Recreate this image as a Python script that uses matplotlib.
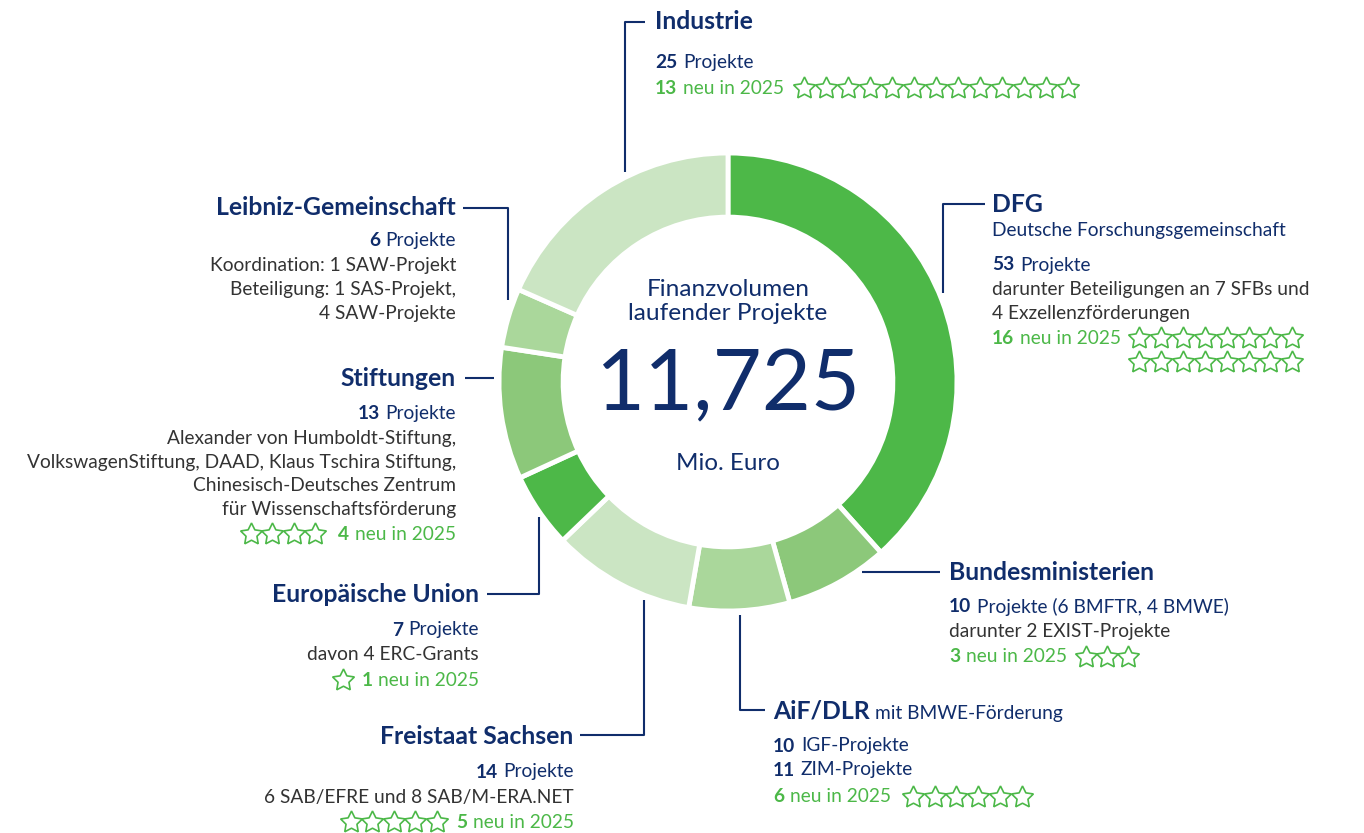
import matplotlib
matplotlib.use('Agg')
import matplotlib.pyplot as plt

plt.rcParams['font.family'] = ['Lato', 'DejaVu Sans']

NAVY = '#102d6b'
GREY = '#333333'
GREEN = '#4cb848'

# ── data ──────────────────────────────────────────────────────────────────────
sources = ['DFG', 'Bundesministerien', 'AiF/DLR', 'Freistaat Sachsen',
           'Europäische Union', 'Stiftungen', 'Leibniz-Gemeinschaft', 'Industrie']
shares = [38.4, 7.3, 7.1, 10.1, 5.3, 9.3, 4.2, 18.4]       # % of volume
ring_colors = ['#4db848', '#8cc87a', '#aad79b', '#cbe5c3',
               '#4db848', '#8cc87a', '#aad79b', '#cbe5c3']
projects = [53, 10, 21, 14, 7, 13, 6, 25]
new_2025 = [16, 3, 6, 5, 1, 4, 0, 13]
total_volume = '11,725'

W, H = 1364, 833
fig = plt.figure(figsize=(W / 100, H / 100), dpi=100)
fig.patch.set_facecolor('white')

# ── donut ─────────────────────────────────────────────────────────────────────
cx, cy, R = 728, 382, 229
pax = fig.add_axes([(cx - R) / W, (H - cy - R) / H, 2 * R / W, 2 * R / H])
pax.pie(shares, colors=ring_colors, startangle=90, counterclock=False, radius=1,
        wedgeprops=dict(width=0.28, edgecolor='white', linewidth=3.5))
pax.set_xlim(-1, 1)
pax.set_ylim(-1, 1)

# ── overlay in pixel coords ───────────────────────────────────────────────────
ax = fig.add_axes([0, 0, 1, 1])
ax.set_xlim(0, W)
ax.set_ylim(H, 0)
ax.axis('off')

TS = 17.8    # titles
BS = 13.8    # body
GAP = 4.0    # space after bold numbers (pt)


def line(pts):
    xs, ys = zip(*pts)
    ax.plot(xs, ys, color=NAVY, lw=1.5, solid_capstyle='butt')


def seq(x, y, parts, ha='left', size=BS):
    """parts: list of (text, bold, color[, size]); chained on one baseline"""
    if ha == 'left':
        p = parts[0]
        prev = ax.text(x, y, p[0], fontsize=size, fontweight='bold' if p[1] else 'normal',
                       color=p[2], ha='left', va='center')
        for p in parts[1:]:
            sz = p[3] if len(p) > 3 else size
            prev = ax.annotate(p[0], xy=(1, 0), xycoords=prev, xytext=(GAP, 0),
                               textcoords='offset points', fontsize=sz,
                               fontweight='bold' if p[1] else 'normal',
                               color=p[2], ha='left', va='bottom')
    else:
        p = parts[-1]
        prev = ax.text(x, y, p[0], fontsize=size, fontweight='bold' if p[1] else 'normal',
                       color=p[2], ha='right', va='center')
        for p in parts[-2::-1]:
            prev = ax.annotate(p[0], xy=(0, 0), xycoords=prev, xytext=(-GAP, 0),
                               textcoords='offset points', fontsize=size,
                               fontweight='bold' if p[1] else 'normal',
                               color=p[2], ha='right', va='bottom')


def stars(x0, y0, n, dx=21.8, per_row=20, dy=24):
    xs = [x0 + (i % per_row) * dx for i in range(n)]
    ys = [y0 + (i // per_row) * dy for i in range(n)]
    ax.plot(xs, ys, ls='none', marker=(5, 1, 0), ms=16.5, mfc='white', mec=GREEN, mew=1.2)


def title(x, y, s, ha='left'):
    ax.text(x, y, s, fontsize=TS, fontweight='bold', color=NAVY, ha=ha, va='center')


def body(x, y, s, ha='left', col=GREY):
    ax.text(x, y, s, fontsize=BS, color=col, ha=ha, va='center')


# ── centre ────────────────────────────────────────────────────────────────────
ax.text(cx, 290, 'Finanzvolumen', fontsize=17.6, color=NAVY, ha='center', va='center')
ax.text(cx, 314, 'laufender Projekte', fontsize=17.6, color=NAVY, ha='center', va='center')
ax.text(cx, 386, total_volume, fontsize=61, color=NAVY, ha='center', va='center')
ax.text(cx, 463, 'Mio. Euro', fontsize=17.4, color=NAVY, ha='center', va='center')

# ── Industrie ─────────────────────────────────────────────────────────────────
line([(645, 22), (625, 22), (625, 172)])
title(655, 21, sources[7])
seq(655, 62, [(str(projects[7]), True, NAVY), ('Projekte', False, NAVY)])
seq(655, 88, [(str(new_2025[7]), True, GREEN), ('neu in 2025', False, GREEN)])
stars(804, 88, new_2025[7], dx=22)

# ── DFG ───────────────────────────────────────────────────────────────────────
line([(985, 204), (943, 204), (943, 293)])
title(992, 204, sources[0])
body(992, 230, 'Deutsche Forschungsgemeinschaft', col=NAVY)
seq(992, 265, [(str(projects[0]), True, NAVY), ('Projekte', False, NAVY)])
body(992, 289, 'darunter Beteiligungen an 7 SFBs und')
body(992, 313, '4 Exzellenzförderungen')
seq(992, 338, [(str(new_2025[0]), True, GREEN), ('neu in 2025', False, GREEN)])
stars(1139, 338, new_2025[0], dx=21.9, per_row=8, dy=24)

# ── Bundesministerien ─────────────────────────────────────────────────────────
line([(862, 572), (940, 572)])
title(949, 572, sources[1])
seq(949, 607, [(str(projects[1]), True, NAVY), ('Projekte (6 BMFTR, 4 BMWE)', False, NAVY)])
body(949, 632, 'darunter 2 EXIST-Projekte')
seq(949, 657, [(str(new_2025[1]), True, GREEN), ('neu in 2025', False, GREEN)])
stars(1086, 657, new_2025[1], dx=21)

# ── AiF/DLR ───────────────────────────────────────────────────────────────────
line([(765, 710), (740, 710), (740, 615)])
seq(773, 711, [('AiF/DLR', True, NAVY), ('mit BMWE-Förderung', False, NAVY, BS)], size=TS)
seq(773, 746, [('10', True, NAVY), ('IGF-Projekte', False, NAVY)])
seq(773, 770, [('11', True, NAVY), ('ZIM-Projekte', False, NAVY)])
seq(773, 797, [(str(new_2025[2]), True, GREEN), ('neu in 2025', False, GREEN)])
stars(913, 797, new_2025[2], dx=21.7)

# ── Freistaat Sachsen ─────────────────────────────────────────────────────────
line([(580, 735), (644, 735), (644, 600)])
title(573, 736, sources[3], ha='right')
seq(574, 772, [(str(projects[3]), True, NAVY), ('Projekte', False, NAVY)], ha='right')
body(574, 797, '6 SAB/EFRE und 8 SAB/M-ERA.NET', ha='right')
seq(574, 822, [(str(new_2025[3]), True, GREEN), ('neu in 2025', False, GREEN)], ha='right')
stars(351, 822, new_2025[3], dx=21.4)

# ── Europäische Union ─────────────────────────────────────────────────────────
line([(487, 594), (539, 594), (539, 517)])
title(479, 594, sources[4], ha='right')
seq(479, 630, [(str(projects[4]), True, NAVY), ('Projekte', False, NAVY)], ha='right')
body(479, 655, 'davon 4 ERC-Grants', ha='right')
seq(479, 680, [(str(new_2025[4]), True, GREEN), ('neu in 2025', False, GREEN)], ha='right')
stars(343, 680, new_2025[4])

# ── Stiftungen ────────────────────────────────────────────────────────────────
line([(465, 378), (494, 378)])
title(456, 378, sources[5], ha='right')
seq(456, 413, [(str(projects[5]), True, NAVY), ('Projekte', False, NAVY)], ha='right')
body(456, 438, 'Alexander von Humboldt-Stiftung,', ha='right')
body(456, 462, 'VolkswagenStiftung, DAAD, Klaus Tschira Stiftung,', ha='right')
body(456, 485, 'Chinesisch-Deutsches Zentrum', ha='right')
body(456, 509, 'für Wissenschaftsförderung', ha='right')
seq(456, 534, [(str(new_2025[5]), True, GREEN), ('neu in 2025', False, GREEN)], ha='right')
stars(251, 534, new_2025[5], dx=21.3)

# ── Leibniz-Gemeinschaft ──────────────────────────────────────────────────────
line([(463, 208), (508, 208), (508, 300)])
title(456, 207, sources[6], ha='right')
seq(456, 240, [(str(projects[6]), True, NAVY), ('Projekte', False, NAVY)], ha='right')
body(456, 265, 'Koordination: 1 SAW-Projekt', ha='right')
body(456, 289, 'Beteiligung: 1 SAS-Projekt,', ha='right')
body(456, 313, '4 SAW-Projekte', ha='right')

fig.savefig('out.png', dpi=100, facecolor='white')
